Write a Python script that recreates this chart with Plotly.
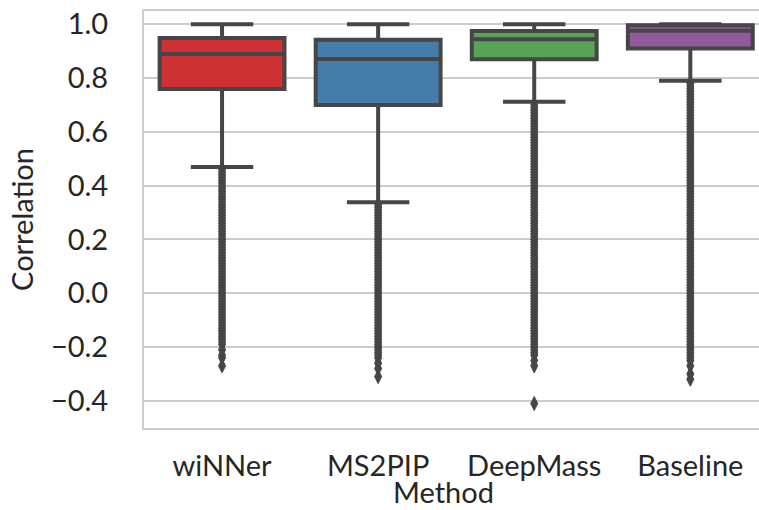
import plotly.graph_objects as go

# ---- data ----
methods = ["wiNNer", "MS2PIP", "DeepMass", "Baseline"]
q1 = [0.759, 0.700, 0.870, 0.910]
median = [0.889, 0.871, 0.944, 0.976]
q3 = [0.949, 0.942, 0.975, 0.996]
lower_whisker = [0.469, 0.338, 0.712, 0.790]
upper_whisker = [1.0, 1.0, 1.0, 1.0]

outliers_winner = [
    0.46, 0.45, 0.44, 0.43, 0.42, 0.41, 0.40, 0.39, 0.38, 0.37,
    0.36, 0.35, 0.34, 0.33, 0.32, 0.31, 0.30, 0.29, 0.28, 0.27,
    0.26, 0.25, 0.24, 0.23, 0.22, 0.21, 0.20, 0.19, 0.18, 0.17,
    0.16, 0.15, 0.14, 0.13, 0.12, 0.11, 0.10, 0.09, 0.08, 0.07,
    0.06, 0.05, 0.04, 0.03, 0.02, 0.01, 0.00, -0.01, -0.02, -0.03,
    -0.04, -0.05, -0.06, -0.07, -0.08, -0.09, -0.10, -0.11, -0.12, -0.13,
    -0.14, -0.15, -0.16, -0.17, -0.18, -0.19, -0.21, -0.23, -0.24, -0.27]
outliers_ms2pip = [
    0.33, 0.32, 0.31, 0.30, 0.29, 0.28, 0.27, 0.26, 0.25, 0.24,
    0.23, 0.22, 0.21, 0.20, 0.19, 0.18, 0.17, 0.16, 0.15, 0.14,
    0.13, 0.12, 0.11, 0.10, 0.09, 0.08, 0.07, 0.06, 0.05, 0.04,
    0.03, 0.02, 0.01, 0.00, -0.01, -0.02, -0.03, -0.04, -0.05, -0.06,
    -0.07, -0.08, -0.09, -0.10, -0.11, -0.12, -0.13, -0.14, -0.15, -0.16,
    -0.17, -0.18, -0.19, -0.20, -0.21, -0.22, -0.23, -0.24, -0.26, -0.28,
    -0.31]
outliers_deepmass = [
    0.70, 0.69, 0.68, 0.67, 0.66, 0.65, 0.64, 0.63, 0.62, 0.61,
    0.60, 0.59, 0.58, 0.57, 0.56, 0.55, 0.54, 0.53, 0.52, 0.51,
    0.50, 0.49, 0.48, 0.47, 0.46, 0.45, 0.44, 0.43, 0.42, 0.41,
    0.40, 0.39, 0.38, 0.37, 0.36, 0.35, 0.34, 0.33, 0.32, 0.31,
    0.30, 0.29, 0.28, 0.27, 0.26, 0.25, 0.24, 0.23, 0.22, 0.21,
    0.20, 0.19, 0.18, 0.17, 0.16, 0.15, 0.14, 0.13, 0.12, 0.11,
    0.10, 0.09, 0.08, 0.07, 0.06, 0.05, 0.04, 0.03, 0.02, 0.01,
    0.00, -0.01, -0.02, -0.03, -0.04, -0.05, -0.06, -0.07, -0.08, -0.09,
    -0.10, -0.11, -0.12, -0.13, -0.14, -0.15, -0.16, -0.17, -0.18, -0.19,
    -0.20, -0.21, -0.22, -0.23, -0.25, -0.27, -0.41]
outliers_baseline = [
    0.78, 0.77, 0.76, 0.75, 0.74, 0.73, 0.72, 0.71, 0.70, 0.69,
    0.68, 0.67, 0.66, 0.65, 0.64, 0.63, 0.62, 0.61, 0.60, 0.59,
    0.58, 0.57, 0.56, 0.55, 0.54, 0.53, 0.52, 0.51, 0.50, 0.49,
    0.48, 0.47, 0.46, 0.45, 0.44, 0.43, 0.42, 0.41, 0.40, 0.39,
    0.38, 0.37, 0.36, 0.35, 0.34, 0.33, 0.32, 0.31, 0.30, 0.29,
    0.28, 0.27, 0.26, 0.25, 0.24, 0.23, 0.22, 0.21, 0.20, 0.19,
    0.18, 0.17, 0.16, 0.15, 0.14, 0.13, 0.12, 0.11, 0.10, 0.09,
    0.08, 0.07, 0.06, 0.05, 0.04, 0.03, 0.02, 0.01, 0.00, -0.01,
    -0.02, -0.03, -0.04, -0.05, -0.06, -0.07, -0.08, -0.09, -0.10, -0.11,
    -0.12, -0.13, -0.14, -0.15, -0.16, -0.17, -0.18, -0.19, -0.20, -0.21,
    -0.22, -0.23, -0.24, -0.25, -0.27, -0.30, -0.32]
outliers = [outliers_winner, outliers_ms2pip, outliers_deepmass, outliers_baseline]

colors = ["#cd3134", "#467ca9", "#59a357", "#915a9c"]
ytick_vals = [-0.4, -0.2, 0.0, 0.2, 0.4, 0.6, 0.8, 1.0]
ytick_text = ["\u22120.4", "\u22120.2", "0.0", "0.2", "0.4", "0.6", "0.8", "1.0"]

GRAY = "#464646"
FONT = "Lato"
FS = 29

fig = go.Figure()

for i, m in enumerate(methods):
    fig.add_trace(go.Scatter(
        x=[m] * len(outliers[i]), y=outliers[i], mode="markers",
        marker=dict(symbol="diamond-tall", size=10, color=GRAY,
                    line=dict(color=GRAY, width=1)),
        showlegend=False, hoverinfo="y"))

for i, m in enumerate(methods):
    fig.add_trace(go.Box(
        x=[m], q1=[q1[i]], median=[median[i]], q3=[q3[i]],
        lowerfence=[lower_whisker[i]], upperfence=[upper_whisker[i]],
        fillcolor=colors[i], line=dict(color=GRAY, width=4),
        width=0.8, whiskerwidth=0.5, boxpoints=False, showlegend=False))

fig.update_layout(
    width=759, height=510,
    margin=dict(l=144, r=0, t=11, b=82),
    plot_bgcolor="white", paper_bgcolor="white",
    font=dict(family=FONT, size=FS, color="#262626"),
    xaxis=dict(
        type="category", categoryorder="array", categoryarray=methods,
        range=[-0.5, 3.44], showgrid=False, zeroline=False,
        showline=True, mirror=True, linecolor="#cccccc", linewidth=2,
        ticks="", ticklabelstandoff=11,
        tickfont=dict(family=FONT, size=FS, color="#262626")),
    yaxis=dict(
        range=[-0.501, 1.049], tickvals=ytick_vals, ticktext=ytick_text,
        showgrid=True, gridcolor="#cccccc", gridwidth=2, zeroline=False,
        showline=True, linecolor="#cccccc", linewidth=2, ticks="",
        ticklabelstandoff=28,
        title=dict(text="Correlation", standoff=9,
                   font=dict(family=FONT, size=FS, color="#262626")),
        tickfont=dict(family=FONT, size=FS, color="#262626")),
    annotations=[dict(
        text="Method", x=1.42, xref="x", y=0, yref="paper",
        yanchor="top", yshift=-44, showarrow=False,
        font=dict(family=FONT, size=FS, color="#262626"))],
)

fig.write_html("out.html")
